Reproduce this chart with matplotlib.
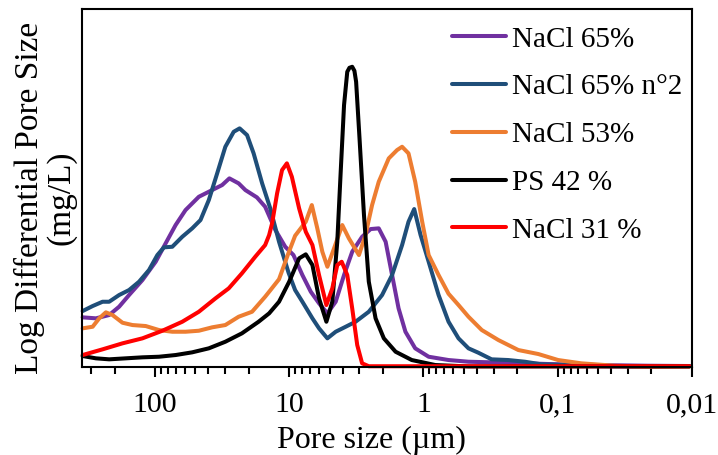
import matplotlib
matplotlib.use("Agg")
import matplotlib.pyplot as plt
from matplotlib.ticker import LogLocator, NullFormatter

plt.rcParams['font.family'] = ['Liberation Serif', 'DejaVu Serif']
plt.rcParams['mathtext.fontset'] = 'stix'

# ---------------- data (pore size in µm, arbitrary intensity) ----------------
labels = ["NaCl 65%", "NaCl 65% n°2", "NaCl 53%", "PS 42 %", "NaCl 31 %"]
colors = ["#7030A0", "#1F4E79", "#ED7D31", "#000000", "#FF0000"]

purple_x = [346, 275.5, 219.5, 185.1, 156.0, 124.0, 98.8, 83.3, 70.2, 59.2, 47.1, 37.5,
            31.6, 27.9, 23.8, 21.2, 17.4, 15.1, 12.7, 10.7, 9.29, 7.97, 6.90, 5.99, 5.19,
            4.50, 3.90, 3.39, 2.86, 2.47, 2.15, 1.91, 1.71, 1.53, 1.36, 1.15, 0.913, 0.649,
            0.461, 0.276, 0.117, 0.0500, 0.0213, 0.0104]
purple_y = [49.4, 48.4, 51.7, 60, 71.7, 86.7, 105, 123.4, 141.7, 156.7, 170, 176.7,
            181.7, 188.4, 183.4, 176.7, 169.4, 160, 137, 120, 111.7, 91.7, 75, 63.4, 53.4,
            65, 91.7, 115, 130, 137.7, 138.4, 125, 91.7, 58.4, 35, 18.4, 10, 6.7,
            5, 4.2, 2.7, 1.7, 1, 0.7]

blue_x = [346, 291.5, 245.8, 219.5, 185.1, 156.0, 131.5, 110.8, 96.0, 85.7, 74.3, 62.6,
          52.8, 45.8, 39.7, 34.4, 29.9, 25.9, 23.4, 20.6, 18.4, 15.9, 13.8, 11.9, 10.1,
          9.03, 7.97, 6.71, 5.99, 5.19, 4.50, 3.79, 3.20, 2.55, 2.03, 1.71, 1.44, 1.29,
          1.17, 1.05, 0.913, 0.770, 0.649, 0.547, 0.461, 0.389, 0.310, 0.233, 0.175,
          0.132, 0.0883, 0.0500, 0.0284, 0.0104]
blue_y = [55.7, 60.7, 65, 65, 71.7, 76.7, 85, 96.7, 111.7, 119.4, 120, 130,
          138.4, 146.7, 166.7, 193.4, 220, 235, 238.4, 231.7, 213.4, 183.4, 158, 125, 94,
          76.7, 65, 48.4, 38.4, 28.4, 35, 40, 45, 55, 71.7, 91.7, 121.7, 145,
          157.7, 132, 105, 71.7, 45, 28.4, 18.4, 14, 7.4, 6.7, 5,
          2.4, 1.7, 0.7, 0.3, 0.7]

orange_x = [346, 291.5, 260.4, 232.3, 207.2, 174.6, 147.2, 117.2, 93.4, 74.3, 59.2, 47.1,
            37.5, 29.9, 23.8, 18.9, 15.1, 14.1, 11.9, 10.1, 9.03, 7.52, 6.78, 6.17, 5.66,
            5.19, 4.63, 4.02, 3.59, 3.02, 2.70, 2.41, 2.15, 1.81, 1.57, 1.44, 1.29, 1.15,
            1.02, 0.913, 0.770, 0.649, 0.547, 0.461, 0.367, 0.276, 0.196, 0.139, 0.0990,
            0.0665, 0.0376, 0.0213, 0.0104]
orange_y = [38.4, 40, 48.4, 54.4, 51.7, 44, 41.7, 40.7, 36.7, 35, 35, 36,
            39.4, 41.7, 50, 55, 70, 75, 87.5, 114, 131, 145, 161.7, 138.4, 115,
            100, 118.4, 141.7, 128.4, 111.7, 131.7, 161.7, 185, 208.4, 216.7, 220, 213.4, 185,
            145, 111.7, 91.7, 73, 61.7, 50, 36.7, 26.7, 16.7, 12.7, 6.7,
            3.4, 1, 0, 0.2]

black_x = [346, 275.5, 219.5, 165.0, 124.0, 93.4, 70.2, 52.8, 39.7, 29.9, 22.5, 16.9,
           14.1, 11.9, 10.0, 8.43, 7.52, 6.71, 5.99, 5.28, 4.77, 4.38, 4.13, 3.90, 3.69,
           3.555, 3.39, 3.264, 3.17, 2.99, 2.77, 2.55, 2.27, 1.97, 1.61, 1.22, 0.815,
           0.461, 0.0104]
black_y = [10.7, 8.4, 7.4, 8.4, 9.4, 10, 11.7, 14.4, 18.4, 25, 33.4, 45,
           53.4, 65, 85, 108.4, 112.4, 101.7, 68.4, 45, 65, 125, 195, 261.7, 295,
           299, 300, 296, 285, 228.4, 151.7, 85, 48.4, 28.4, 15, 6.7, 1.7,
           0.3, 0.3]

red_x = [346, 245.8, 174.6, 124.0, 88.1, 62.6, 47.1, 35.4, 28.2, 22.5, 17.9, 15.1,
         14.1, 13.4, 12.3, 11.3, 10.4, 9.55, 8.43, 7.52, 6.71, 5.99, 5.28, 4.77, 4.38,
         4.06, 3.69, 3.39, 3.11, 2.86, 2.55, 0.0104]
red_y = [11.7, 17.4, 23.4, 28.4, 36, 45, 55, 68.4, 78.4, 93.4, 110, 121.7,
         131.7, 143.4, 173.4, 196.7, 203.4, 190, 158.4, 135, 121.7, 91.7, 61.7, 78.4, 101.7,
         105, 91.7, 58.4, 21.7, 3.4, 0.5, 0.5]

tick_values = [100, 10, 1, 0.1, 0.01]
tick_labels = ["100", "10", "1", "0,1", "0,01"]

series = [(purple_x, purple_y), (blue_x, blue_y), (orange_x, orange_y),
          (black_x, black_y), (red_x, red_y)]

# ---------------- figure ----------------
fig = plt.figure(figsize=(7.18, 4.55), dpi=100)
ax = fig.add_axes([0.1138, 0.194, 0.8496, 0.786])

for (xs, ys), lab, col in zip(series, labels, colors):
    ax.plot(xs, ys, color=col, lw=2.9, label=lab, solid_joinstyle='round',
            solid_capstyle='round', clip_on=False)

ax.set_xscale('log')
ax.set_xlim(351.6, 0.0104)
ax.set_ylim(0, 357.7)
ax.set_yticks([])

ax.set_xticks(tick_values)
ax.set_xticklabels(tick_labels)
ax.xaxis.set_minor_locator(LogLocator(base=10, subs=range(2, 10), numticks=50))
ax.xaxis.set_minor_formatter(NullFormatter())
ax.tick_params(axis='x', which='major', direction='out', length=7.5, width=1.5,
               labelsize=21.5, pad=11)
ax.tick_params(axis='x', which='minor', direction='out', length=5, width=1.5)

for s in ax.spines.values():
    s.set_linewidth(1.5)

fig.text(371.5 / 718, 7.0 / 455, "Pore size (µm)", ha='center', va='baseline',
         fontsize=23)
fig.text(0.063, 0.565, "Log Differential Pore Size\n(mg/L)", rotation=90,
         ha='center', va='center', fontsize=24, multialignment='center',
         linespacing=1.0)

leg = ax.legend(loc='upper left', bbox_to_anchor=(0.607, 0.952), frameon=False,
                borderpad=0, borderaxespad=0, handlelength=1.85, handletextpad=0.2,
                labelspacing=0.73, fontsize=21)

fig.savefig("out.png", dpi=100)
